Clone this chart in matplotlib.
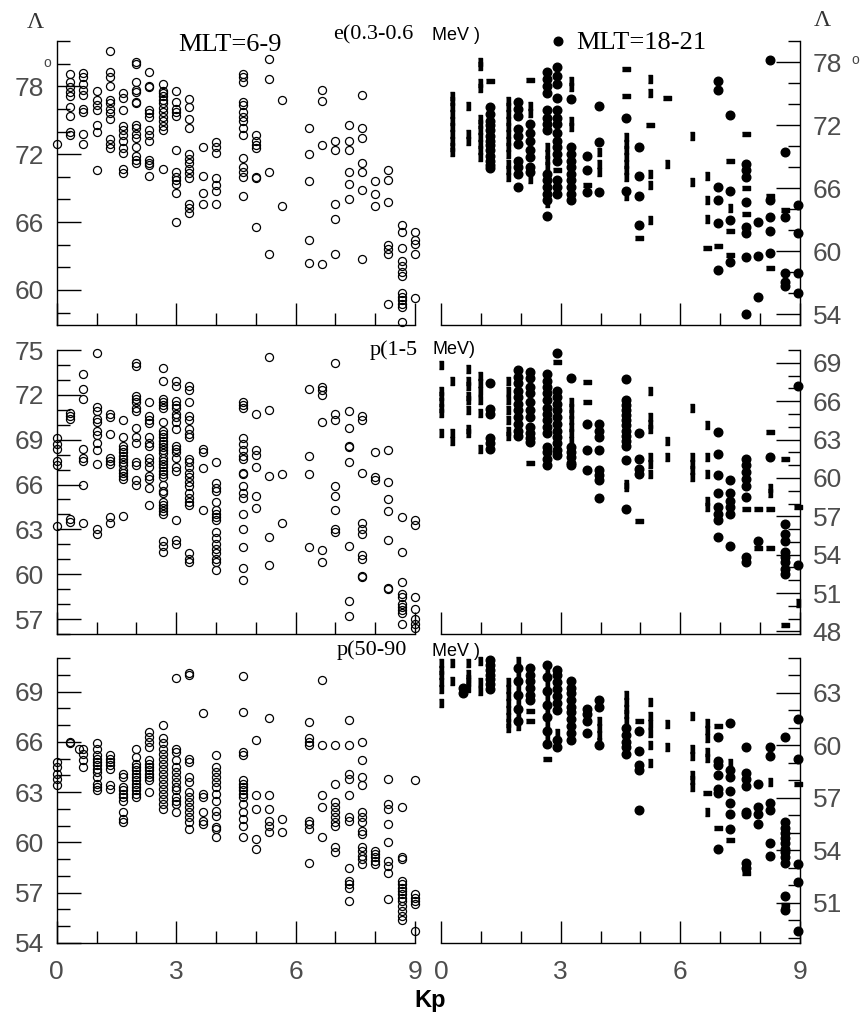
import matplotlib
matplotlib.use("Agg")
import matplotlib.pyplot as plt
from matplotlib.lines import Line2D
from matplotlib.ticker import MultipleLocator

W, H = 865, 1023

# invariant latitude (deg) of boundary crossings, grouped by Kp column
e_dawn = {
    0.0: [72.9],
    0.33: [79.1, 78.4, 77.9, 77.5, 77.1, 76.2, 75.4, 74.0, 73.7],
    0.67: [79.2, 78.8, 78.2, 77.7, 77.2, 76.0, 75.7, 73.8, 72.9],
    1.0: [77.6, 76.8, 76.3, 75.9, 74.6, 74.0, 70.6],
    1.33: [81.1, 79.3, 78.8, 78.0, 76.8, 76.5, 76.0, 75.6, 75.1, 73.3, 72.9, 72.5],
    1.67: [77.4, 77.0, 75.9, 74.5, 74.1, 73.7, 73.2, 72.5, 72.1, 70.7, 70.3],
    2.0: [80.1, 80.0, 78.4, 77.7, 77.5, 76.6, 76.5, 74.6, 74.3, 73.8, 73.4, 72.6, 71.8, 71.5, 71.2],
    2.33: [79.3, 78.0, 77.9, 75.9, 75.6, 75.3, 74.1, 73.7, 73.2, 71.5, 71.2, 71.0, 70.1],
    2.67: [78.2, 77.6, 77.4, 77.1, 76.8, 76.5, 76.1, 75.7, 75.3, 74.9, 74.5, 74.1, 70.7],
    3.0: [77.6, 76.6, 76.0, 75.7, 75.4, 72.4, 70.4, 70.0, 69.7, 69.4, 68.6, 66.0],
    3.33: [76.9, 76.2, 75.1, 74.3, 72.0, 71.6, 71.2, 70.7, 70.3, 69.9, 67.6, 67.2, 66.8],
    3.67: [72.6, 70.1, 68.6, 67.6],
    4.0: [73.1, 72.6, 72.1, 69.9, 69.3, 68.7, 67.6],
    4.67: [79.1, 78.8, 78.4, 76.6, 76.3, 75.7, 75.3, 74.9, 74.3, 73.7, 71.7, 70.9, 70.4, 70.0, 68.3],
    5.0: [73.7, 73.2, 72.8, 72.5, 70.0, 69.9, 65.6],
    5.33: [80.4, 78.6, 70.4, 63.2],
    5.67: [76.8, 67.4],
    6.33: [74.3, 72.0, 69.6, 64.4, 62.4],
    6.67: [77.7, 76.7, 72.8, 62.3],
    7.0: [73.2, 72.4, 67.6, 66.3, 63.2],
    7.33: [74.6, 73.2, 72.4, 70.4, 69.4, 68.0],
    7.67: [77.2, 74.3, 73.4, 71.2, 70.4, 68.8, 62.7],
    8.0: [69.6, 68.5, 67.4],
    8.33: [70.6, 69.7, 67.8, 64.0, 63.6, 63.2, 58.8],
    8.67: [65.7, 65.1, 63.7, 62.6, 62.1, 61.6, 61.2, 59.7, 59.4, 59.1, 58.8, 58.5, 57.2],
    9.0: [65.1, 64.4, 64.1, 63.2, 59.3],
}
e_dusk_dots = {
    1.23: [73.7, 73.1, 72.4, 72.0, 71.5, 71.0, 70.5, 70.1, 69.6, 69.1, 68.6, 68.2, 67.9],
    1.94: [74.2, 73.5, 72.9, 71.6, 71.0, 70.2, 68.6, 68.0, 67.4, 66.1],
    2.23: [72.1, 71.3, 70.5, 69.6, 69.0, 68.0, 67.5],
    2.65: [77.1, 76.4, 75.7, 75.1, 73.4, 72.7, 72.1, 71.5, 67.4, 66.8, 66.1, 65.5, 64.9, 63.4],
    2.92: [77.5, 76.7, 75.9, 74.6, 73.4, 72.7, 72.1, 71.3, 70.5, 69.9, 69.3, 68.6, 66.8, 66.1, 65.5],
    3.27: [74.5, 69.9, 69.3, 68.6, 68.0, 67.4, 66.8, 66.1, 65.5, 64.9],
    3.65: [69.1, 67.7, 65.6],
    3.97: [73.8, 70.4, 65.6],
    4.65: [72.7, 65.7],
    4.97: [69.9, 67.2, 65.3, 62.5],
    6.95: [76.2, 75.3, 66.1, 64.9, 62.7, 58.2],
    7.24: [73.0, 65.7, 63.0, 59.0],
    7.64: [68.3, 67.7, 67.1, 64.7, 62.3, 61.7, 59.5, 54.0],
    7.95: [62.8, 59.6, 55.7],
    8.25: [78.2, 64.9, 63.3, 61.9, 59.8],
    8.62: [69.4, 63.3, 57.9, 57.1, 56.7],
    8.96: [64.4, 61.7, 57.9, 56.0],
}
e_dusk_bars = {
    0.27: [74.8, 74.3, 73.7, 73.1, 72.4, 71.8, 71.2, 70.5, 69.9, 69.4],
    0.67: [73.8, 71.2, 70.5],
    0.98: [78.0, 77.6, 76.0, 75.5, 72.6, 72.1, 71.5, 70.9, 70.2, 69.6, 69.0],
    1.67: [74.3, 73.7, 73.1, 72.4, 71.8, 71.2, 70.5, 69.9, 69.3, 68.3, 67.7, 67.1],
    2.23: [73.8, 73.2, 66.9],
    2.65: [69.9, 69.3, 68.7, 68.1, 64.6],
    3.27: [76.2, 75.6, 72.4, 71.8],
    3.97: [69.4, 68.3, 67.5],
    4.65: [70.9, 70.2, 69.6, 69.0, 68.3, 67.7, 67.1, 65.3],
    5.25: [76.4, 75.1, 67.4, 66.3, 63.0],
    5.67: [68.3],
    6.28: [71.0, 66.6],
    6.66: [67.2, 64.9, 63.1],
    7.24: [64.1],
}
e_dusk_dashes = {
    1.23: [76.2], 2.23: [76.3], 2.92: [67.7], 3.65: [66.3], 4.65: [77.3, 74.8],
    4.97: [61.3], 5.25: [72.0], 5.67: [74.6], 6.66: [60.3], 6.95: [60.5],
    7.24: [68.6, 61.9, 59.7], 7.64: [71.2, 66.0, 63.6], 8.25: [65.3, 58.4], 8.62: [63.9],
}

p1_dawn = {
    0.0: [69.1, 68.7, 68.4, 67.6, 67.3, 63.2],
    0.33: [70.8, 70.6, 70.4, 63.7, 63.5],
    0.67: [73.4, 72.4, 71.7, 68.4, 67.8, 67.6, 66.0, 63.4],
    1.0: [74.8, 71.2, 70.9, 70.4, 70.2, 69.6, 69.3, 68.8, 68.3, 67.4, 63.0, 62.7],
    1.33: [70.7, 70.5, 69.4, 67.8, 67.6, 67.4, 63.8, 63.4],
    1.67: [70.3, 69.2, 68.6, 68.4, 68.2, 67.9, 67.7, 67.5, 67.3, 67.0, 66.8, 66.6, 66.4, 63.9],
    2.0: [74.1, 73.9, 71.9, 71.7, 71.5, 71.1, 70.9, 69.8, 69.2, 68.8, 67.5, 67.3, 66.3, 66.0],
    2.33: [71.5, 70.6, 70.3, 70.1, 69.2, 68.8, 68.6, 67.8, 67.5, 67.2, 66.6, 66.4, 65.8, 64.6],
    2.67: [73.8, 72.9, 71.7, 71.5, 71.3, 71.1, 70.2, 69.6, 69.4, 69.2, 68.9, 68.7, 68.5, 68.3,
           68.1, 67.8, 67.6, 67.4, 67.2, 66.9, 66.7, 66.5, 66.0, 65.6, 65.4, 64.8, 64.6, 64.4,
           64.2, 64.0, 62.2, 61.9, 61.5],
    3.0: [72.9, 72.6, 71.6, 71.3, 71.1, 70.7, 70.5, 70.2, 69.7, 68.6, 68.4, 68.2, 67.8, 67.2,
          66.9, 63.6, 62.3, 62.0],
    3.33: [72.6, 72.3, 71.5, 70.6, 70.3, 69.7, 69.4, 69.2, 67.7, 67.5, 67.2, 66.8, 66.5, 66.2,
           65.9, 65.4, 65.1, 64.8, 64.6, 61.4, 61.0, 60.8],
    3.67: [68.4, 68.2, 67.1, 64.3],
    4.0: [67.5, 66.1, 65.8, 65.6, 64.8, 64.3, 64.0, 63.8, 63.6, 62.8, 62.4, 62.0, 61.7, 61.4,
          61.0, 60.8, 60.3],
    4.67: [71.5, 71.3, 71.1, 69.1, 68.7, 68.3, 67.9, 67.7, 66.8, 66.7, 65.9, 65.4, 65.1, 64.0,
           63.0, 61.8, 60.4, 59.6],
    5.0: [70.7, 68.3, 68.0, 67.2, 65.2, 64.4],
    5.33: [74.5, 71.0, 66.6, 62.5, 60.6],
    5.67: [66.7, 63.4],
    6.33: [72.4, 67.9, 66.7, 61.8],
    6.67: [72.5, 72.3, 72.0, 70.2, 61.6, 60.8],
    7.0: [74.1, 70.7, 70.3, 65.9, 65.2, 64.3, 63.0, 62.8],
    7.33: [70.9, 69.8, 68.6, 68.5, 67.5, 61.9, 58.2, 57.2],
    7.67: [70.6, 70.3, 66.8, 63.4, 63.0, 62.7, 61.3, 61.0, 59.9, 59.8],
    8.0: [68.2, 66.5, 66.3],
    8.33: [68.3, 66.2, 65.0, 64.2, 62.3, 59.1, 59.0],
    8.67: [63.8, 61.5, 59.5, 58.7, 58.5, 58.0, 57.8, 57.6, 57.4, 56.7],
    9.0: [63.6, 63.3, 58.5, 57.7, 57.0, 56.7, 56.4],
}
p1_dusk_dots = {
    1.23: [67.4, 65.4, 65.0, 63.1, 62.7, 62.3],
    1.94: [68.4, 67.9, 67.4, 66.8, 66.3, 65.8, 65.3, 64.8, 64.2, 63.7, 63.3],
    2.23: [68.3, 67.8, 67.1, 66.6, 65.9, 65.3, 64.8, 64.0, 63.5, 63.1, 62.8],
    2.65: [68.1, 67.6, 67.1, 66.6, 66.1, 65.5, 65.0, 64.5, 64.0, 63.5, 62.4, 62.0, 61.5, 61.0],
    2.92: [69.8, 66.8, 66.3, 65.8, 65.3, 64.8, 64.2, 63.7, 63.2, 62.7, 62.2, 61.8],
    3.27: [67.8, 62.4, 62.0, 61.6, 61.2, 61.0],
    3.65: [64.2, 62.2, 60.6],
    3.97: [64.2, 63.7, 63.2, 62.2, 60.6, 60.2, 59.8, 58.4],
    4.65: [67.7, 66.1, 65.7, 65.3, 64.9, 64.5, 64.1, 63.7, 63.3, 62.9, 62.5, 61.4, 57.6],
    4.97: [63.5, 61.5, 60.7, 60.3],
    6.95: [63.6, 61.9, 60.2, 58.8, 57.7, 57.2, 56.7, 55.4],
    7.24: [59.8, 58.8, 58.2, 57.7, 57.2, 54.7],
    7.64: [61.5, 61.0, 60.5, 59.9, 59.4, 58.5, 53.8, 53.4],
    7.95: [55.1],
    8.25: [61.6],
    8.62: [56.4, 55.6, 55.1, 54.2, 53.8, 53.4, 52.9, 52.5],
    8.96: [67.2, 53.2],
}
p1_dusk_bars = {
    0.0: [68.8, 66.8, 66.4, 65.9, 65.5, 65.1, 63.5],
    0.27: [67.6, 63.5, 62.9],
    0.67: [68.5, 67.6, 67.2, 66.4, 66.1, 65.3, 63.8, 63.5],
    0.98: [68.0, 67.4, 66.8, 66.1, 65.1, 62.3],
    1.67: [67.6, 66.8, 66.1, 65.3, 64.5, 63.7, 63.3],
    3.27: [65.9, 65.5, 65.0, 64.5, 64.0, 63.5, 62.9],
    4.65: [59.5, 59.3],
    5.25: [66.8, 64.8, 64.2, 63.8, 61.6, 61.1, 60.3],
    5.67: [62.9, 61.6],
    6.28: [65.5, 61.6, 61.1, 60.6, 60.1],
    6.66: [64.1, 61.6, 60.3, 58.2, 57.7],
    8.25: [59.2, 58.8],
    8.96: [50.2],
}
p1_dusk_dashes = {
    2.23: [61.2], 2.92: [69.1], 3.65: [67.5, 65.9], 4.97: [56.6], 7.64: [57.6],
    7.95: [57.6, 54.5], 8.25: [63.6, 57.6, 54.5], 8.62: [61.5, 48.5], 8.96: [57.7],
}

p50_dawn = {
    0.0: [64.8, 64.5, 64.1, 63.8, 63.4],
    0.33: [66.0, 65.9],
    0.55: [65.6],
    0.67: [65.6, 65.3, 64.9, 64.5],
    1.0: [65.9, 65.6, 65.2, 65.0, 64.8, 64.6, 64.4, 64.2, 63.9, 63.5, 63.3, 63.1],
    1.33: [65.2, 65.0, 64.8, 64.6, 64.4, 63.4, 63.2],
    1.67: [64.1, 63.9, 63.3, 63.1, 62.9, 62.7, 62.5, 61.8, 61.4, 61.2],
    2.0: [65.6, 65.1, 64.7, 64.5, 64.3, 64.1, 63.9, 63.7, 63.5, 63.3, 63.1, 62.9, 62.7],
    2.33: [66.6, 66.3, 66.0, 65.7, 64.9, 64.7, 64.5, 64.3, 64.1, 63.9, 63.7, 63.0],
    2.67: [67.0, 66.2, 65.9, 65.6, 65.3, 65.0, 64.7, 64.4, 64.1, 63.8, 63.5, 63.2, 62.9, 62.6,
           62.3, 62.0],
    3.0: [69.8, 65.6, 65.4, 64.9, 64.5, 64.2, 63.9, 63.6, 63.3, 63.1, 62.7, 62.5, 62.3, 61.8],
    3.33: [70.1, 70.0, 65.0, 64.8, 63.9, 63.6, 63.0, 62.7, 62.4, 62.1, 61.8, 61.5, 61.2, 60.8],
    3.67: [67.7, 62.9, 62.7, 61.8, 61.3, 61.1],
    4.0: [65.2, 64.5, 64.2, 63.9, 63.6, 63.3, 62.9, 62.5, 61.9, 61.6, 60.9, 60.8, 60.3],
    4.67: [69.9, 67.8, 65.4, 65.2, 63.7, 63.5, 63.3, 63.1, 62.9, 62.7, 62.3, 61.8, 61.4, 61.0, 60.3],
    5.0: [66.1, 62.8, 62.0, 60.2, 59.6],
    5.33: [67.4, 62.8, 62.0, 61.3, 61.0, 60.6],
    5.67: [61.4, 60.6],
    6.33: [67.2, 66.2, 66.0, 65.8, 61.3, 61.1, 60.8, 58.8],
    6.67: [69.7, 65.8, 62.8, 62.1, 60.3],
    7.0: [65.8, 63.5, 62.4, 62.1, 61.8, 61.5, 61.2, 61.0, 59.7, 59.4],
    7.33: [67.3, 65.8, 64.1, 63.8, 62.8, 61.5, 61.3, 58.5, 57.7, 57.5, 57.3, 56.5],
    7.67: [66.0, 64.9, 63.9, 63.4, 61.8, 61.5, 61.2, 60.7, 60.5, 59.7, 59.5, 59.2, 59.0, 58.7],
    8.0: [59.5, 59.3, 59.1, 58.9, 58.7],
    8.33: [63.8, 62.3, 62.0, 61.1, 60.0, 58.9, 58.6, 58.2, 56.6],
    8.67: [62.1, 59.1, 59.0, 57.7, 57.5, 57.3, 57.1, 56.9, 56.7, 56.5, 56.2, 55.9, 55.6, 55.4],
    9.0: [63.7, 56.9, 56.7, 56.5, 56.3, 54.7],
}
p50_dusk_dots = {
    0.55: [63.3, 63.0],
    1.23: [64.9, 64.6, 64.3, 64.0, 63.8, 63.5, 63.2],
    1.94: [64.4, 63.7, 62.9, 62.1, 61.4],
    2.23: [64.4, 64.0, 63.7, 63.3, 62.9, 62.6],
    2.65: [64.6, 63.9, 63.1, 62.3, 61.6, 60.8, 60.1],
    2.92: [64.3, 64.0, 63.6, 63.2, 62.8, 62.4, 62.0, 60.3, 59.9],
    3.27: [63.7, 63.3, 63.0, 62.6, 62.2, 61.9, 61.5, 61.1, 60.7, 60.3],
    3.65: [62.1, 61.8, 61.4, 60.7],
    3.97: [62.6, 62.2, 60.0],
    4.65: [61.0, 60.6, 60.2, 59.9, 59.5],
    4.97: [60.8, 59.7, 58.9, 58.6, 56.3],
    6.95: [60.5, 59.1, 58.9, 58.3, 57.5, 57.3, 54.1],
    7.24: [61.3, 58.6, 58.2, 57.4, 56.7, 56.1, 55.2],
    7.64: [59.9, 58.4, 58.1, 57.7, 56.2, 56.1, 53.3, 53.0],
    7.95: [57.8, 56.5, 56.1, 55.5],
    8.25: [59.9, 59.4, 56.7, 56.3, 54.4, 53.7],
    8.62: [60.5, 55.6, 55.3, 55.0, 54.7, 54.4, 54.1, 53.9, 53.6, 53.3, 51.4, 50.6],
    8.96: [61.5, 59.2, 53.2, 52.2, 49.4],
}
p50_dusk_bars = {
    0.0: [64.7, 64.3, 64.0, 63.6, 63.2, 62.4],
    0.27: [64.7, 63.7],
    0.67: [64.7, 64.1, 63.8, 63.6, 63.3],
    0.98: [64.8, 63.6, 63.1],
    1.67: [63.6, 63.2, 62.8, 62.4, 62.0, 61.6, 61.3, 61.0],
    1.94: [64.8, 64.0, 63.3, 62.5, 61.8, 61.1],
    2.65: [64.2, 63.5, 62.7, 62.0, 61.2, 60.4],
    2.92: [60.7],
    3.97: [61.4, 61.0, 60.6, 60.2],
    4.65: [62.9, 62.5, 62.1, 61.8, 61.4],
    5.25: [62.5, 61.7, 61.2, 60.7, 60.0, 59.0],
    5.67: [61.2, 59.9],
    6.28: [61.7, 59.8, 59.4, 58.3, 58.0, 57.6],
    6.66: [61.3, 60.9, 60.4, 59.6, 59.3, 56.2],
    7.24: [59.0],
    8.25: [57.9],
}
p50_dusk_dashes = {
    2.23: [61.95, 61.4], 2.65: [59.2], 4.97: [61.4], 6.66: [57.3], 6.95: [61.1, 55.3],
    7.24: [54.6], 7.64: [52.7], 8.62: [50.9], 8.96: [57.8],
}

kp_ticks = [0, 3, 6, 9]

BAR = [(-0.22, -0.5), (0.22, -0.5), (0.22, 0.5), (-0.22, 0.5)]
DASH = [(-0.5, -0.2), (0.5, -0.2), (0.5, 0.2), (-0.5, 0.2)]
TICKFONT = dict(family="Liberation Sans", size=19, color="#4d4d4d")


def flat(d):
    xs = [k for k, v in d.items() for _ in v]
    ys = [y for v in d.values() for y in v]
    return xs, ys


def px_axes(fig, x0, y0, x1, y1):
    return fig.add_axes([x0 / W, 1 - y1 / H, (x1 - x0) / W, (y1 - y0) / H])


def style(ax, side, ylim, major, minor, bottom_labels):
    ax.set_xlim(0, 9)
    ax.set_ylim(*ylim)
    ax.set_facecolor("none")
    for s in ["top", "left", "right"]:
        ax.spines[s].set_visible(False)
    ax.spines[side].set_visible(True)
    for s in ax.spines.values():
        s.set_linewidth(1.0)
    ax.xaxis.set_major_locator(MultipleLocator(3))
    ax.xaxis.set_minor_locator(MultipleLocator(1))
    ax.yaxis.set_major_locator(MultipleLocator(major))
    ax.yaxis.set_minor_locator(MultipleLocator(minor))
    ax.tick_params(axis="x", which="major", direction="in", length=16, width=1,
                   labelbottom=bottom_labels, pad=12)
    ax.tick_params(axis="x", which="minor", direction="in", length=8.5, width=1)
    if side == "right":
        ax.yaxis.tick_right()
        ax.tick_params(axis="y", which="both", left=False, right=True)
    ax.tick_params(axis="y", which="major", direction="in", length=17, width=1, pad=9)
    ax.tick_params(axis="y", which="minor", direction="in", length=9, width=1)
    for lab in ax.get_xticklabels() + ax.get_yticklabels():
        lab.set_fontfamily(TICKFONT["family"])
        lab.set_fontsize(TICKFONT["size"])
        lab.set_color(TICKFONT["color"])


def open_circles(ax, d):
    x, y = flat(d)
    ax.plot(x, y, ls="none", marker="o", ms=5.8, mfc="none", mec="black",
            mew=0.9, clip_on=False)


def filled(ax, dots, bars, dashes):
    x, y = flat(bars)
    ax.plot(x, y, ls="none", marker=BAR, ms=5.5, color="black", clip_on=False)
    x, y = flat(dashes)
    ax.plot(x, y, ls="none", marker=DASH, ms=5.5, color="black", clip_on=False)
    x, y = flat(dots)
    ax.plot(x, y, ls="none", marker="o", ms=6.2, color="black", clip_on=False)


fig = plt.figure(figsize=(W / 100, H / 100), dpi=100)

rows = [(41, 325), (350, 634), (658, 943)]
lx0, lx1, rx0, rx1 = 56.7, 415, 441, 800

ax = px_axes(fig, lx0, *rows[0][:1], lx1, rows[0][1]) if False else px_axes(fig, lx0, rows[0][0], lx1, rows[0][1])
open_circles(ax, e_dawn)
style(ax, "left", (56.9, 82), 6, 2, False)

ax = px_axes(fig, rx0, rows[0][0], rx1, rows[0][1])
filled(ax, e_dusk_dots, e_dusk_bars, e_dusk_dashes)
style(ax, "right", (53, 80), 6, 2, False)

ax = px_axes(fig, lx0, rows[1][0], lx1, rows[1][1])
open_circles(ax, p1_dawn)
style(ax, "left", (56, 75), 3, 1, False)

ax = px_axes(fig, rx0, rows[1][0], rx1, rows[1][1])
filled(ax, p1_dusk_dots, p1_dusk_bars, p1_dusk_dashes)
style(ax, "right", (47.8, 70), 3, 1, False)

ax = px_axes(fig, lx0, rows[2][0], lx1, rows[2][1])
open_circles(ax, p50_dawn)
style(ax, "left", (54, 71), 3, 1, True)
ax.set_xticks(kp_ticks)

ax = px_axes(fig, rx0, rows[2][0], rx1, rows[2][1])
filled(ax, p50_dusk_dots, p50_dusk_bars, p50_dusk_dashes)
style(ax, "right", (48.7, 65), 3, 1, True)
ax.set_xticks(kp_ticks)
for lab in fig.axes[-1].get_xticklabels() + fig.axes[-2].get_xticklabels():
    lab.set_fontfamily(TICKFONT["family"])
    lab.set_fontsize(TICKFONT["size"])
    lab.set_color(TICKFONT["color"])


def ftext(x, y, s, **kw):
    fig.text(x / W, 1 - y / H, s, **kw)


serif = "Liberation Serif"
ftext(35, 22, "Λ", family=serif, size=17, ha="center", va="center", color="#333")
ftext(822, 21, "Λ", family=serif, size=17, ha="center", va="center", color="#333")
ftext(47, 63, "o", family="Liberation Sans", size=10, ha="center", va="center", color="#444")
ftext(855, 60, "o", family="Liberation Sans", size=10, ha="center", va="center", color="#444")

ftext(178, 45, "MLT=6-9", family=serif, size=19, ha="left", va="center")
ftext(333, 35, "e(0.3-0.6", family=serif, size=16, ha="left", va="center")
ftext(432, 36, "MeV )", family="Liberation Sans", size=13, ha="left", va="center")
fig.add_artist(Line2D([557.7 / W], [1 - 40.7 / H], marker="o", ms=6.2, color="black",
                      ls="none", transform=fig.transFigure))
ftext(576, 43, "MLT=18-21", family=serif, size=19, ha="left", va="center")
ftext(370, 350, "p(1-5", family=serif, size=16, ha="left", va="center")
ftext(432, 350, "MeV)", family="Liberation Sans", size=13, ha="left", va="center")
ftext(337, 650, "p(50-90", family=serif, size=16, ha="left", va="center")
ftext(432, 652, "MeV )", family="Liberation Sans", size=13, ha="left", va="center")
ftext(430, 1000, "Kp", family="Liberation Sans", size=17, weight="bold", ha="center", va="center")

fig.savefig("out.png", dpi=100, facecolor="white")
